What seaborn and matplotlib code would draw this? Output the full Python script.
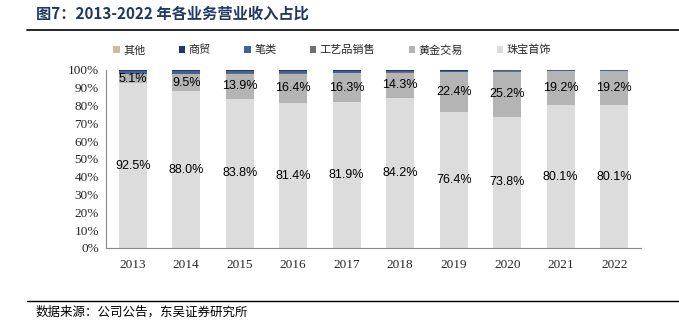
import matplotlib
matplotlib.use("Agg")
import matplotlib.pyplot as plt
import seaborn as sns
import numpy as np
import pandas as pd
from matplotlib.patches import Patch
from matplotlib.lines import Line2D

years = ["2013", "2014", "2015", "2016", "2017", "2018", "2019", "2020", "2021", "2022"]
jewelry = [92.5, 88.0, 83.8, 81.4, 81.9, 84.2, 76.4, 73.8, 80.1, 80.1]
gold = [5.1, 9.5, 13.9, 16.4, 16.3, 14.3, 22.4, 25.2, 19.2, 19.2]
crafts = [0.3, 0.5, 0.4, 0.4, 0.3, 0.2, 0.2, 0.2, 0.1, 0.1]
pens = [1.5, 1.5, 1.4, 1.3, 1.1, 0.9, 0.7, 0.6, 0.4, 0.4]
trade = [0.4, 0.3, 0.3, 0.3, 0.2, 0.2, 0.2, 0.1, 0.1, 0.1]
other = [0.2, 0.2, 0.2, 0.2, 0.2, 0.2, 0.1, 0.1, 0.1, 0.1]

series_names = ["珠宝首饰", "黄金交易", "工艺品销售", "笔类", "商贸", "其他"]
series_vals = [jewelry, gold, crafts, pens, trade, other]
colors = {"珠宝首饰": "#DCDCDC", "黄金交易": "#B4B4B4", "工艺品销售": "#707070",
          "笔类": "#3F6299", "商贸": "#1F3864", "其他": "#C9BF9B"}

sns.set_style("white")
plt.rcParams['font.family'] = ['Noto Sans CJK SC', 'DejaVu Sans']

fig = plt.figure(figsize=(6.79, 3.24), dpi=100)
ax = fig.add_axes([0.156, 0.2346, 0.788, 0.5494])

cum = np.zeros(len(years))
cums = []
for name, vals in zip(series_names, series_vals):
    cum = cum + np.array(vals)
    cums.append(cum.copy())

# draw cumulative totals from top down so each layer overlays the next
for name, c in reversed(list(zip(series_names, cums))):
    d = pd.DataFrame({"year": years, "v": c})
    sns.barplot(data=d, x="year", y="v", color=colors[name], width=0.52,
                saturation=1, ax=ax, edgecolor="none", linewidth=0)

# data labels
for i in range(len(years)):
    ax.text(i, jewelry[i] / 2, f"{jewelry[i]:.1f}%", ha="center", va="center",
            fontsize=9, family="Liberation Sans", color="black")
    ax.text(i, jewelry[i] + gold[i] / 2, f"{gold[i]:.1f}%", ha="center", va="center",
            fontsize=9, family="Liberation Sans", color="black")

ax.set_xlim(-0.5, 9.5)
ax.set_ylim(0, 100)
ax.set_yticks(np.arange(0, 101, 10))
ax.set_yticklabels([f"{v}%" for v in range(0, 101, 10)], family="Liberation Serif", fontsize=9.5)
ax.set_xticks(range(len(years)))
ax.set_xticklabels(years, family="Liberation Serif", fontsize=9.5)
ax.set_xticks(np.arange(-0.5, 10, 1), minor=True)
ax.tick_params(axis="x", which="major", length=0, pad=8)
ax.tick_params(axis="x", which="minor", length=4, width=0.8, color="#888888", direction="out")
ax.tick_params(axis="y", which="major", length=3, width=0.8, color="#888888", direction="out", pad=2)
ax.set_xlabel("")
ax.set_ylabel("")
for s in ["top", "right"]:
    ax.spines[s].set_visible(False)
for s in ["left", "bottom"]:
    ax.spines[s].set_color("#888888")
    ax.spines[s].set_linewidth(0.8)

# legend
order = ["其他", "商贸", "笔类", "工艺品销售", "黄金交易", "珠宝首饰"]
handles = [Patch(facecolor=colors[n], edgecolor="none") for n in order]
fig.legend(handles, order, loc="center", bbox_to_anchor=(0.489, 0.845), ncol=6,
           frameon=False, handlelength=0.6, handleheight=0.6,
           handletextpad=0.3, columnspacing=3.0, prop={"family": ["Noto Sans CJK SC"], "size": 8})

# title and source
fig.text(0.053, 0.957, "图7：2013-2022 年各业务营业收入占比", fontsize=11, fontweight="bold",
         color="#1F3864", va="center", ha="left")
fig.add_artist(Line2D([0.04, 1.0], [0.908, 0.908], color="black", linewidth=1.2,
                      transform=fig.transFigure))
fig.add_artist(Line2D([0.04, 1.0], [0.071, 0.071], color="black", linewidth=1.0,
                      transform=fig.transFigure))
fig.text(0.052, 0.037, "数据来源：公司公告，东吴证券研究所", fontsize=9, color="black",
         va="center", ha="left")

fig.savefig("out.png", dpi=100)
